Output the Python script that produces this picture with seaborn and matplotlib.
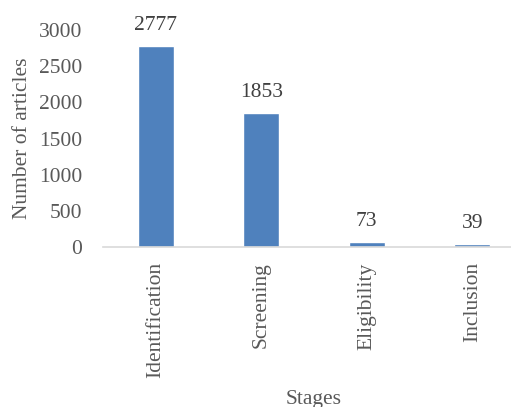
import matplotlib
matplotlib.use("Agg")
import matplotlib.pyplot as plt
import seaborn as sns
import pandas as pd

stages = ["Identification", "Screening", "Eligibility", "Inclusion"]
articles = [2777, 1853, 73, 39]
y_ticks = [0, 500, 1000, 1500, 2000, 2500, 3000]

sns.set_theme(style="white")
plt.rcParams["font.family"] = ["Liberation Serif", "DejaVu Serif"]

df = pd.DataFrame({"Stages": stages, "Number of articles": articles})

W, H = 511, 407
fig = plt.figure(figsize=(W / 100, H / 100), dpi=100)
ax = fig.add_axes([103 / W, (H - 247) / H, 422 / W, 217 / H])

sns.barplot(data=df, x="Stages", y="Number of articles", color="#4F81BD",
            width=0.34, saturation=1, ax=ax)

ax.set_ylim(0, 3000)
ax.set_xlim(-0.5, 3.5)
ax.set_yticks(y_ticks)
ax.set_yticklabels([str(t) for t in y_ticks], fontsize=15.5, color="#595959")
ax.tick_params(axis="y", length=0, pad=15)
ax.tick_params(axis="x", length=0, pad=11)
for lbl in ax.get_xticklabels():
    lbl.set_rotation(90)
    lbl.set_fontsize(15.5)
    lbl.set_color("#595959")

for s in ["top", "right", "left"]:
    ax.spines[s].set_visible(False)
ax.spines["bottom"].set_color("#D9D9D9")
ax.spines["bottom"].set_linewidth(1.2)

for container in ax.containers:
    ax.bar_label(container, labels=[str(v) for v in articles], padding=8,
                 fontsize=15.5, color="#404040")

ax.set_xlabel("Stages", fontsize=15.5, color="#595959", labelpad=8)
ax.set_ylabel("Number of articles", fontsize=15.5, color="#595959", labelpad=5)

fig.savefig("out.png", dpi=100)
